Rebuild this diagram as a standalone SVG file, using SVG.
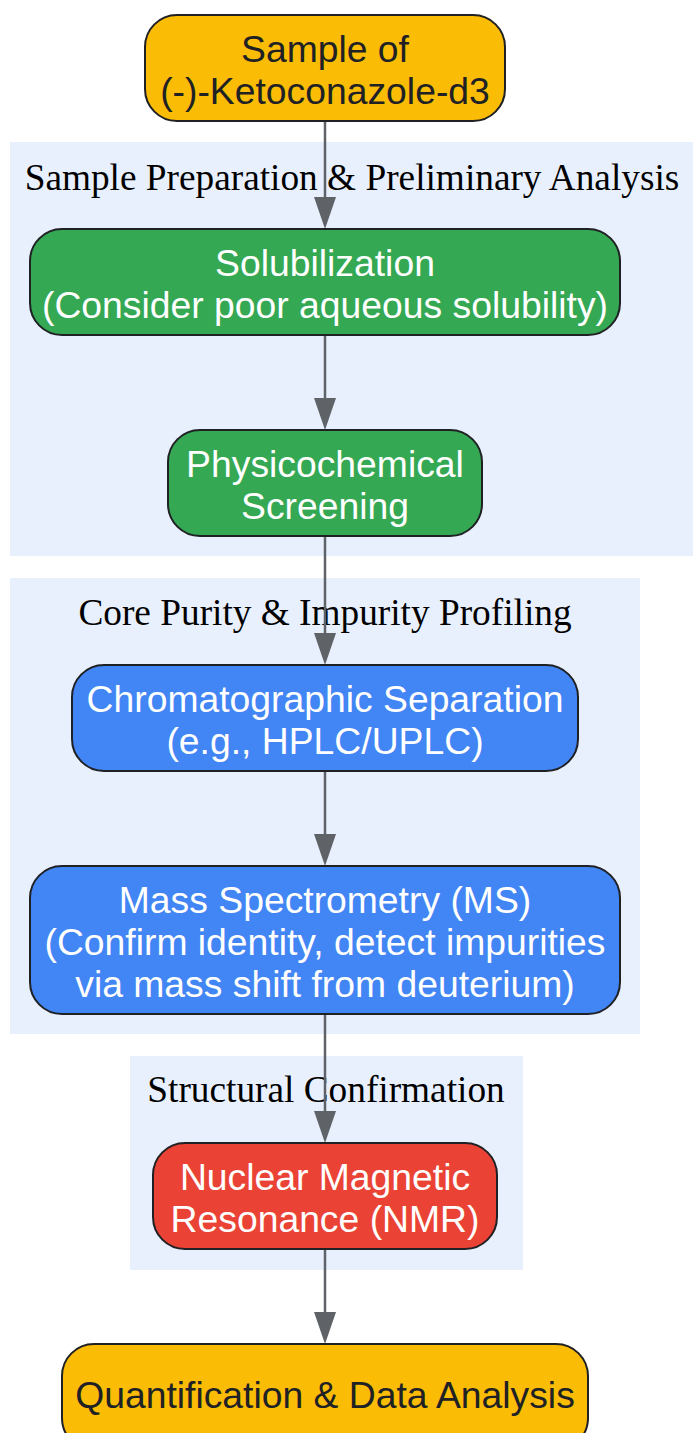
<svg xmlns="http://www.w3.org/2000/svg" width="693" height="1433" viewBox="0 0 693 1433">
<defs>
<style>
.cl{fill:#E8F0FE;stroke:none}
.clt{font-family:"Liberation Serif","Times New Roman",serif;font-size:37.3px;fill:#000;text-anchor:middle}
.n{stroke:#202124;stroke-width:2}
.t{font-family:"Liberation Sans",Arial,sans-serif;font-size:37.3px;text-anchor:middle}
.dk{fill:#202124}
.wt{fill:#FFFFFF}
.e{stroke:#5F6368;stroke-width:2.5;fill:none}
</style>
<marker id="ah" markerWidth="32" markerHeight="22" refX="17" refY="11" orient="auto" markerUnits="userSpaceOnUse" viewBox="0 0 32 22">
<path d="M0,0 L32,11 L0,22 Z" fill="#5F6368"/>
</marker>
</defs>
<rect width="693" height="1433" fill="#FFFFFF"/>
<g id="cluster_prep">
<rect class="cl" x="10" y="142" width="683" height="414"/>
<text class="clt" x="352" y="190">Sample Preparation &amp; Preliminary Analysis</text>
</g>
<g id="cluster_core">
<rect class="cl" x="10" y="578" width="630" height="456"/>
<text class="clt" x="325" y="625">Core Purity &amp; Impurity Profiling</text>
</g>
<g id="cluster_struct">
<rect class="cl" x="130" y="1056" width="393" height="214"/>
<text class="clt" x="326" y="1102">Structural Confirmation</text>
</g>
<g id="edges">
<line class="e" x1="325" y1="121" x2="325" y2="214" marker-end="url(#ah)"/>
<line class="e" x1="325" y1="335" x2="325" y2="415" marker-end="url(#ah)"/>
<line class="e" x1="325" y1="536" x2="325" y2="650" marker-end="url(#ah)"/>
<line class="e" x1="325" y1="771" x2="325" y2="851" marker-end="url(#ah)"/>
<line class="e" x1="325" y1="1014" x2="325" y2="1128" marker-end="url(#ah)"/>
<line class="e" x1="325" y1="1249" x2="325" y2="1329" marker-end="url(#ah)"/>
</g>
<g id="sample">
<rect class="n" x="145" y="15" width="360" height="106" rx="32" fill="#FBBC05"/>
<text class="t dk" x="325" y="62">Sample of</text>
<text class="t dk" x="325" y="104">(-)-Ketoconazole-d3</text>
</g>
<g id="solubilization">
<rect class="n" x="30" y="229" width="590" height="106" rx="32" fill="#34A853"/>
<text class="t wt" x="325" y="276">Solubilization</text>
<text class="t wt" x="325" y="318">(Consider poor aqueous solubility)</text>
</g>
<g id="physchem">
<rect class="n" x="168" y="430" width="314" height="106" rx="32" fill="#34A853"/>
<text class="t wt" x="325" y="477">Physicochemical</text>
<text class="t wt" x="325" y="519">Screening</text>
</g>
<g id="chromatography">
<rect class="n" x="72" y="665" width="506" height="106" rx="32" fill="#4285F4"/>
<text class="t wt" x="325" y="712">Chromatographic Separation</text>
<text class="t wt" x="325" y="754">(e.g., HPLC/UPLC)</text>
</g>
<g id="ms">
<rect class="n" x="30" y="866" width="590" height="148" rx="32" fill="#4285F4"/>
<text class="t wt" x="325" y="913">Mass Spectrometry (MS)</text>
<text class="t wt" x="325" y="955">(Confirm identity, detect impurities</text>
<text class="t wt" x="325" y="997">via mass shift from deuterium)</text>
</g>
<g id="nmr">
<rect class="n" x="153" y="1143" width="344" height="106" rx="32" fill="#EA4335"/>
<text class="t wt" x="325" y="1190">Nuclear Magnetic</text>
<text class="t wt" x="325" y="1232">Resonance (NMR)</text>
</g>
<g id="quant">
<rect class="n" x="62" y="1344" width="526" height="106" rx="32" fill="#FBBC05"/>
<text class="t dk" x="325" y="1408">Quantification &amp; Data Analysis</text>
</g>
</svg>
